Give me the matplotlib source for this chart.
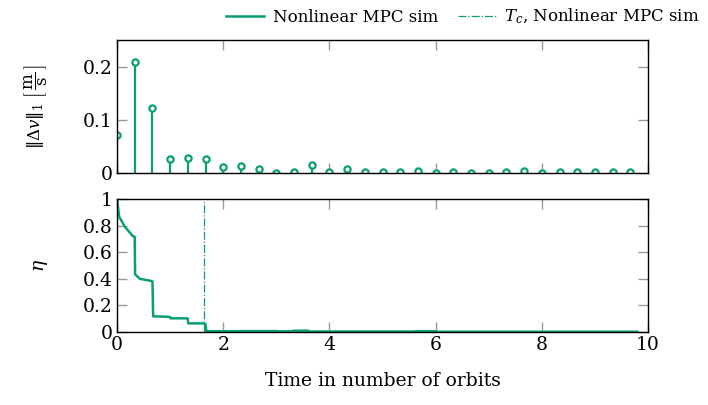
import numpy as np
import matplotlib.pyplot as plt

plt.rcParams['font.family'] = ['DejaVu Serif']
plt.rcParams['mathtext.fontset'] = 'dejavuserif'
plt.rcParams['font.size'] = 13.5

green = '#0a9e76'

# delta-v per MPC step, one every third of an orbit
dv_idx = np.arange(30)
dv_vals = [0.072, 0.208, 0.123, 0.027, 0.029, 0.027, 0.011, 0.013, 0.0075, 0.0005,
           0.0025, 0.016, 0.001, 0.007, 0.002, 0.002, 0.002, 0.004, 0.0, 0.002,
           0.0005, 0.0005, 0.001, 0.004, 0.0005, 0.002, 0.002, 0.002, 0.002, 0.002]
dv_time = dv_idx / 3.0

# eta over time
eta_time = [0.0, 0.04, 0.15, 0.30, 0.333, 0.34, 0.43, 0.63, 0.667, 0.68, 0.95, 1.0, 1.01,
            1.32, 1.333, 1.34, 1.62, 1.667, 1.68, 2.3, 2.35, 3.0, 3.05, 3.3, 3.32, 3.6, 3.62,
            5.6, 5.62, 6.0, 6.02, 9.8]
eta_vals = [1.0, 0.867, 0.79, 0.72, 0.717, 0.434, 0.40, 0.385, 0.38, 0.118, 0.115, 0.112, 0.103,
            0.103, 0.10, 0.065, 0.065, 0.06, 0.006, 0.006, 0.007, 0.007, 0.005, 0.005, 0.01, 0.01, 0.004,
            0.004, 0.006, 0.006, 0.002, 0.002]
t_c = 1.63

fig = plt.figure(figsize=(7.08, 4.05), dpi=100)
ax1 = fig.add_axes([0.1653, 0.5728, 0.75, 0.3284])
ax2 = fig.add_axes([0.1653, 0.1802, 0.75, 0.3284])

ml, sl, bl = ax1.stem(dv_time, dv_vals, basefmt=' ')
plt.setp(sl, color=green, linewidth=1.6)
plt.setp(ml, marker='o', markersize=4.5, markerfacecolor='white',
         markeredgecolor=green, markeredgewidth=1.6)
ax1.set_ylim(0, 0.25)
ax1.set_yticks([0, 0.1, 0.2])
ax1.set_yticklabels(['0', '0.1', '0.2'])
ax1.set_ylabel(r'$\|\Delta v\|_1\ \left[\,\dfrac{\mathrm{m}}{\mathrm{s}}\,\right]$', fontsize=12)
ax1.yaxis.set_label_coords(-0.127, 0.5)
ax1.tick_params(axis='x', labelbottom=False)

ax2.plot(eta_time, eta_vals, color=green, linewidth=1.8, label='Nonlinear MPC sim')
ax2.axvline(t_c, color=green, linewidth=0.9, linestyle='-.', label=r'$T_c$, Nonlinear MPC sim')
ax2.set_ylim(0, 1)
ax2.set_yticks([0, 0.2, 0.4, 0.6, 0.8, 1.0])
ax2.set_yticklabels(['0', '0.2', '0.4', '0.6', '0.8', '1'])
ax2.set_ylabel(r'$\eta$')
ax2.yaxis.set_label_coords(-0.127, 0.5)
ax2.set_xlabel('Time in number of orbits')
ax2.xaxis.set_label_coords(0.5, -0.30)

for ax in (ax1, ax2):
    ax.set_xlim(0, 10)
    ax.set_xticks([0, 2, 4, 6, 8, 10])
    ax.tick_params(direction='in', length=7.5, width=1, color='#999999',
                   top=True, right=True, pad=3)
    for s in ax.spines.values():
        s.set_linewidth(1)
        s.set_color('black')

h, l = ax2.get_legend_handles_labels()
fig.legend(h, l, loc='upper right', bbox_to_anchor=(1.01, 1.02), ncol=2, frameon=False,
           fontsize=12, handlelength=2.3, columnspacing=1.2, handletextpad=0.5)

fig.savefig('out.png', dpi=100)
